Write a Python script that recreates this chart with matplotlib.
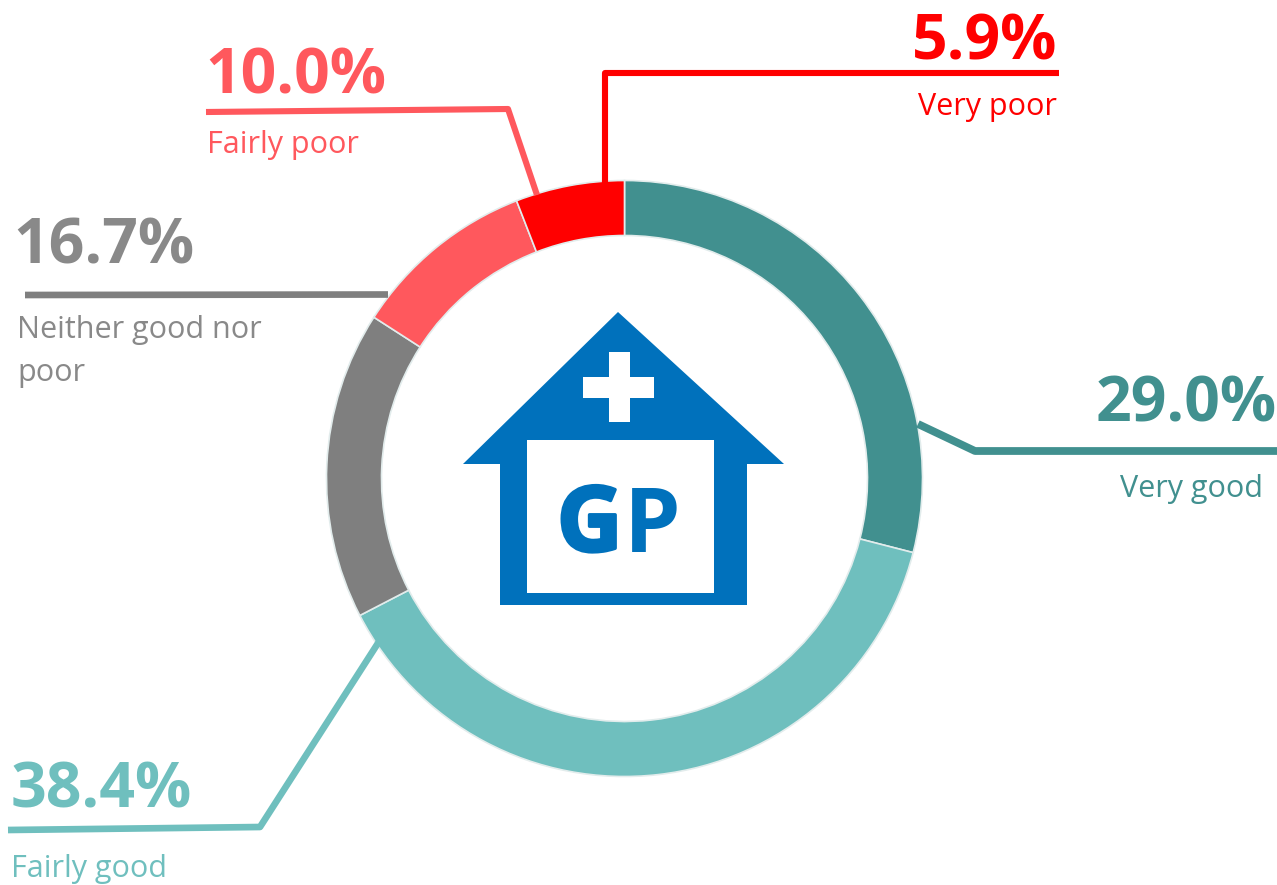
import matplotlib
matplotlib.use("Agg")
import matplotlib.pyplot as plt
from matplotlib.patches import Polygon, Rectangle
import matplotlib.patheffects as pe

categories = ["Very good", "Fairly good", "Neither good nor\npoor", "Fairly poor", "Very poor"]
values = [29.0, 38.4, 16.7, 10.0, 5.9]
value_labels = ["29.0%", "38.4%", "16.7%", "10.0%", "5.9%"]
colors = ["#41908F", "#6FBFBE", "#7F7F7F", "#FF585D", "#FF0000"]
value_colors = ["#41908F", "#6FBFBE", "#898989", "#FF585D", "#FF0000"]
label_colors = ["#41908F", "#6FBFBE", "#898989", "#FF585D", "#FF0000"]

W, H = 1277, 885
plt.rcParams["font.family"] = ["Open Sans", "Noto Sans", "DejaVu Sans"]
fig = plt.figure(figsize=(W / 100, H / 100), dpi=100, facecolor="white")
ax = fig.add_axes([0, 0, 1, 1])
Y = lambda p: H - p

ax.pie(values, colors=colors, startangle=90, counterclock=False, center=(624.5, Y(478.5)), radius=298,
       wedgeprops=dict(width=55, edgecolor="#E2ECEC", linewidth=1.2), frame=False)
ax.set_xlim(0, W)
ax.set_ylim(0, H)
ax.set_aspect("equal")
ax.axis("off")

leaders = [
    [(918, 424), (975, 451), (1277, 451)],
    [(380, 640), (260, 827), (8, 830)],
    [(388, 294.5), (25, 295)],
    [(537, 195), (508, 109), (206, 112)],
    [(605, 183), (605, 73), (1059, 73)],
]
widths = [5.6, 4.8, 4.8, 4.4, 4.4]
value_pos = [(1277, 421, "right"), (11, 808, "left"), (13, 264, "left"), (205, 93, "left"), (1057, 59, "right")]
label_pos = [(1263, 497, "right"), (11, 877, "left"), (17, 338, "left"), (207, 153, "left"), (1057, 115, "right")]

for i in range(len(values)):
    xs = [p[0] for p in leaders[i]]
    ys = [Y(p[1]) for p in leaders[i]]
    ax.plot(xs, ys, color=colors[i], lw=widths[i], solid_capstyle="butt", solid_joinstyle="round", zorder=3)
    vx, vy, ha = value_pos[i]
    ax.text(vx, Y(vy), value_labels[i], color=value_colors[i], fontsize=45, fontweight="bold",
            ha=ha, va="baseline", zorder=4)
    lx, ly, ha = label_pos[i]
    if "\n" in categories[i]:
        first, second = categories[i].split("\n")
        ax.text(lx, Y(ly), first, color=label_colors[i], fontsize=22, ha=ha, va="baseline", zorder=4)
        ax.text(lx, Y(ly + 43), second, color=label_colors[i], fontsize=22, ha=ha, va="baseline", zorder=4)
    else:
        ax.text(lx, Y(ly), categories[i], color=label_colors[i], fontsize=22, ha=ha, va="baseline", zorder=4)

blue = "#0071BC"
house = [(618, 312), (784, 464), (747, 464), (747, 605), (500, 605), (500, 464), (463, 464)]
ax.add_patch(Polygon([(x, Y(y)) for x, y in house], closed=True, fc=blue, ec="none", zorder=5))
ax.add_patch(Rectangle((527, Y(593)), 187, 153, fc="white", ec="none", zorder=6))
ax.add_patch(Rectangle((609, Y(422)), 21, 70, fc="white", ec="none", zorder=6))
ax.add_patch(Rectangle((583, Y(398)), 71, 21, fc="white", ec="none", zorder=6))
ax.text(557, Y(551), "G", color=blue, fontsize=65, fontweight="bold", family="Open Sans",
        ha="left", va="baseline", zorder=7,
        path_effects=[pe.withStroke(linewidth=2.5, foreground=blue)])
ax.text(624, Y(552), "P", color=blue, fontsize=65, fontweight="bold", family="Open Sans",
        ha="left", va="baseline", zorder=7)

fig.savefig("out.png", dpi=100, facecolor="white")
